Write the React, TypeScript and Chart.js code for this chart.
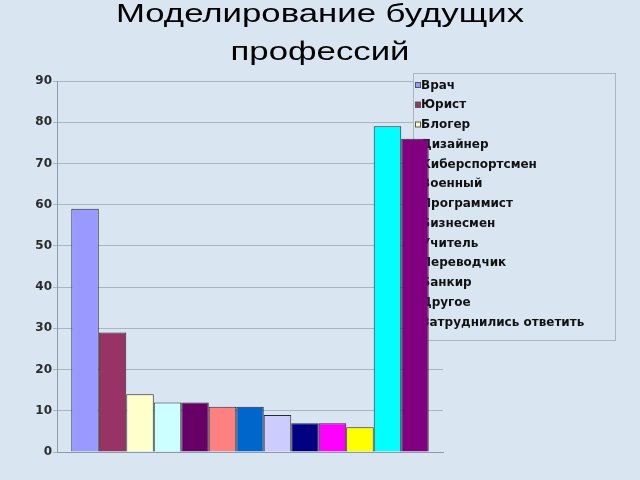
import React, { useEffect, useRef } from "react";
import { Chart, registerables } from "chart.js";

Chart.register(...registerables);

const titleLines = ["Моделирование будущих", "профессий"];
const categories = [
  "Врач",
  "Юрист",
  "Блогер",
  "Дизайнер",
  "Киберспортсмен",
  "Военный",
  "Программист",
  "Бизнесмен",
  "Учитель",
  "Переводчик",
  "Банкир",
  "Другое",
  "Затруднились ответить",
];
const values = [59, 29, 14, 12, 12, 11, 11, 9, 7, 7, 6, 79, 76];
const colors = [
  "#9999FF",
  "#993366",
  "#FFFFCC",
  "#CCFFFF",
  "#660066",
  "#FF8080",
  "#0066CC",
  "#CCCCFF",
  "#000080",
  "#FF00FF",
  "#FFFF00",
  "#00FFFF",
  "#800080",
];
const yMin = 0;
const yMax = 90;
const yStep = 10;

const BG = "#d9e6f2";

const legendPlugin = {
  id: "overlayLegend",
  beforeDatasetsDraw(chart: any) {
    const ctx = chart.ctx;
    const x0 = 413;
    const y0 = 73;
    const w = 202;
    const h = 267;
    ctx.save();
    ctx.fillStyle = BG;
    ctx.fillRect(x0, y0, w, h);
    ctx.strokeStyle = "#aab6c4";
    ctx.lineWidth = 1;
    ctx.strokeRect(x0 + 0.5, y0 + 0.5, w, h);
    ctx.font = "bold 12px 'DejaVu Sans'";
    ctx.textBaseline = "middle";
    ctx.textAlign = "left";
    chart.data.datasets.forEach((ds: any, i: number) => {
      const y = 85 + i * 19.75;
      ctx.fillStyle = ds.backgroundColor;
      ctx.fillRect(415, y - 3, 6, 6);
      ctx.strokeStyle = "#555";
      ctx.strokeRect(415.5, y - 2.5, 5, 5);
      ctx.fillStyle = "#111";
      ctx.fillText(ds.label, 421, y + 0.5);
    });
    ctx.restore();
  },
};

export default function App() {
  const ref = useRef<HTMLCanvasElement | null>(null);
  useEffect(() => {
    if (!ref.current) return;
    const chart = new Chart(ref.current, {
      type: "bar",
      data: {
        labels: [""],
        datasets: categories.map((c, i) => ({
          label: c,
          data: [values[i]],
          backgroundColor: colors[i],
          borderColor: "#2a2a2a",
          borderWidth: 1,
          categoryPercentage: 0.926,
          barPercentage: 1,
        })),
      },
      options: {
        responsive: false,
        animation: false,
        layout: { padding: { left: 0, top: 81, right: 197, bottom: 28 } },
        plugins: {
          legend: { display: false },
          title: { display: false },
          tooltip: { enabled: false },
        },
        scales: {
          x: {
            grid: { display: false },
            border: { display: true, color: "#8e9aa8" },
            ticks: { display: false },
            afterFit: (s: any) => {
              s.height = 0;
            },
          },
          y: {
            min: yMin,
            max: yMax,
            ticks: {
              stepSize: yStep,
              padding: 1,
              color: "#2b2b2b",
              font: { family: "'DejaVu Sans'", size: 12, weight: "bold" },
            },
            grid: { color: "#a9b5c3", tickLength: 4 },
            border: { color: "#8e9aa8" },
            afterFit: (s: any) => {
              s.width = 57;
            },
          },
        },
      },
      plugins: [legendPlugin],
    });
    return () => chart.destroy();
  }, []);
  return (
    <div
      style={{
        position: "absolute",
        left: 0,
        top: 0,
        width: 640,
        height: 480,
        background: BG,
        overflow: "hidden",
      }}
    >
      <canvas ref={ref} width={640} height={480} style={{ position: "absolute", left: 0, top: 0 }} />
      <div
        style={{
          position: "absolute",
          left: 0,
          top: -5,
          width: 640,
          textAlign: "center",
          fontFamily: "'Liberation Sans', Arial, sans-serif",
          fontSize: 25,
          lineHeight: "37.6px",
          color: "#000",
          transform: "scaleX(1.39)",
          transformOrigin: "320px 0",
          whiteSpace: "nowrap",
        }}
      >
        {titleLines.map((l, i) => (
          <div key={i}>{l}</div>
        ))}
      </div>
    </div>
  );
}
